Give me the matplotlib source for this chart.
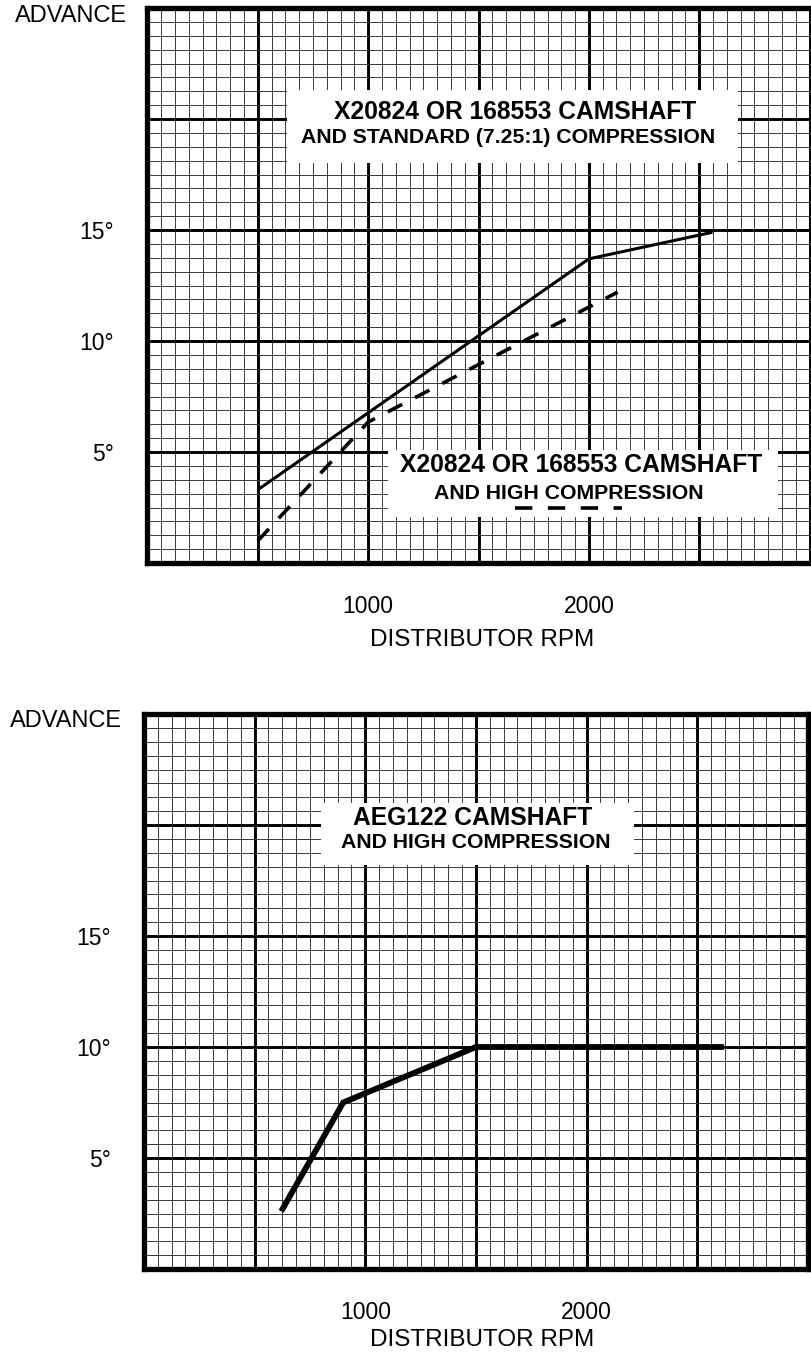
import matplotlib
matplotlib.use("Agg")
import matplotlib.pyplot as plt
from matplotlib.ticker import MultipleLocator
from matplotlib.patches import Rectangle

plt.rcParams['font.family'] = ['Liberation Sans', 'DejaVu Sans']

# advance curves (distributor rpm, degrees)
rpm_std = [500, 2000, 2560]
adv_std = [3.3, 13.7, 14.9]
rpm_high = [500, 1000, 2130]
adv_high = [1.0, 6.35, 12.2]
rpm_aeg = [620, 900, 1500, 2620]
adv_aeg = [2.6, 7.5, 10.0, 10.0]

x_labels = {1000: "1000", 2000: "2000"}
y_labels = {5: "5°", 10: "10°", 15: "15°"}

W, H = 812, 1358
fig = plt.figure(figsize=(W / 100, H / 100), dpi=100)


def px_axes(l, t, r, b):
    return fig.add_axes([l / W, 1 - b / H, (r - l) / W, (b - t) / H])


def paper(ax, xmax):
    ax.set_xlim(0, xmax)
    ax.set_ylim(0, 25)
    xt = list(range(0, 3001, 500))
    yt = list(range(0, 26, 5))
    ax.set_xticks(xt)
    ax.set_xticklabels([x_labels.get(v, "") for v in xt])
    ax.set_yticks(yt)
    ax.set_yticklabels([y_labels.get(v, "") for v in yt])
    ax.xaxis.set_minor_locator(MultipleLocator(62.5))
    ax.yaxis.set_minor_locator(MultipleLocator(0.625))
    ax.tick_params(which='both', length=0)
    ax.tick_params(axis='x', pad=23, labelsize=16.5)
    ax.tick_params(axis='y', pad=24, labelsize=16.5)
    ax.grid(which='minor', color='#3a3a3a', lw=0.7)
    ax.grid(which='major', color='black', lw=2.1)
    ax.set_axisbelow(True)
    for s in ax.spines.values():
        s.set_linewidth(3.8)
        s.set_color('black')


def white_box(ax, x0, x1, y0, y1):
    ax.add_patch(Rectangle((x0, y0), x1 - x0, y1 - y0, facecolor='white',
                           edgecolor='none', zorder=3))


# ---- top chart
ax1 = px_axes(147.5, 8, 812, 563)
paper(ax1, 664.5 / 0.2207)
ax1.spines['right'].set_visible(False)
ax1.plot(rpm_std, adv_std, color='black', lw=2.2, zorder=5, solid_capstyle='butt')
ax1.plot(rpm_high, adv_high, color='black', lw=2.6, zorder=5,
         dashes=(4.5, 4.0), dash_capstyle='butt')

white_box(ax1, 632, 2677, 18.0, 21.3)
ax1.text(1665, 20.3, "X20824 OR 168553 CAMSHAFT", ha='center', va='center',
         fontsize=17.7, fontweight='bold', zorder=4)
ax1.text(1633, 19.15, "AND STANDARD (7.25:1) COMPRESSION", ha='center', va='center',
         fontsize=15.3, fontweight='bold', zorder=4)

white_box(ax1, 1090, 2857, 2.05, 5.08)
ax1.text(1965, 4.41, "X20824 OR 168553 CAMSHAFT", ha='center', va='center',
         fontsize=17.7, fontweight='bold', zorder=4)
ax1.text(1910, 3.15, "AND HIGH COMPRESSION", ha='center', va='center',
         fontsize=15.3, fontweight='bold', zorder=4)
ax1.plot([1665, 2150], [2.48, 2.48], color='black', lw=2.6, zorder=4,
         dashes=(4.8, 4.3), dash_capstyle='butt')

fig.text(127 / W, 1 - 16 / H, "ADVANCE", ha='right', va='center', fontsize=17)
fig.text(482 / W, 1 - 640 / H, "DISTRIBUTOR RPM", ha='center', va='center', fontsize=17.5)

# ---- bottom chart
ax2 = px_axes(144, 714, 808, 1269)
paper(ax2, 3000)
ax2.plot(rpm_aeg, adv_aeg, color='black', lw=4.2, zorder=5,
         solid_capstyle='butt', solid_joinstyle='miter')

white_box(ax2, 800, 2214, 18.2, 21.0)
ax2.text(1486, 20.3, "AEG122 CAMSHAFT", ha='center', va='center',
         fontsize=17.7, fontweight='bold', zorder=4)
ax2.text(1500, 19.2, "AND HIGH COMPRESSION", ha='center', va='center',
         fontsize=15.3, fontweight='bold', zorder=4)

fig.text(122 / W, 1 - 721 / H, "ADVANCE", ha='right', va='center', fontsize=17)
fig.text(482 / W, 1 - 1340 / H, "DISTRIBUTOR RPM", ha='center', va='center', fontsize=17.5)

fig.savefig("out.png", dpi=100)
